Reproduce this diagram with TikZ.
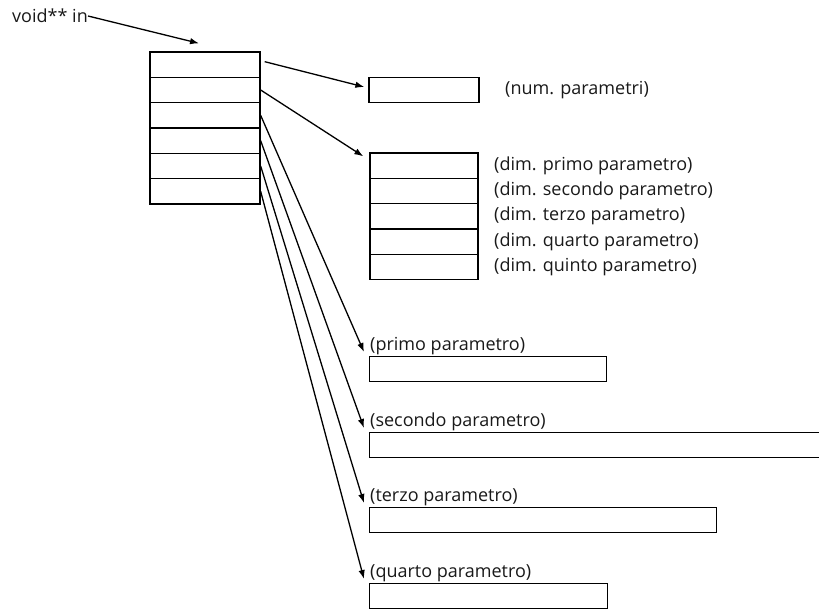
\documentclass[tikz,border=0pt]{standalone}
\usepackage{fontspec}
\setmainfont{Open Sans}
\usetikzlibrary{arrows.meta}
\tikzset{
  cella/.style={draw, line width=1.3pt, minimum width=110pt, minimum height=25.33pt, inner sep=0pt},
  campo/.style={draw, line width=1.3pt, minimum height=25pt, inner sep=0pt, anchor=north west},
  freccia/.style={-{Latex[length=9pt,width=6.5pt]}, line width=1.3pt},
  etichetta/.style={anchor=west, inner sep=0pt, text=black!90, font=\fontsize{18}{21}\selectfont}
}
\begin{document}
\begin{tikzpicture}[x=1pt, y=-1pt]
    \path [use as bounding box, clip] (0,0) rectangle (819,609);
    \pgfmathsetmacro{\h}{25.33};
    \node [etichetta] (void) at (12, 16) {void** in};
    \foreach \k in {1,...,6}
        \node [cella] (in\k) at (205, {52+\h*(\k-0.5)}) {};
    \node [cella] (num) at (424, 90) {};
    \node [etichetta] at (505, 90) {(num. parametri)};
    \foreach \k/\nome in {1/primo, 2/secondo, 3/terzo, 4/quarto, 5/quinto} {
        \node [cella, minimum width=108pt] (dim\k) at (424, {153+\h*(\k-0.5)}) {};
        \node [etichetta] at (494, {153+\h*(\k-0.5)}) {(dim. \nome\ parametro)};
    }
    \foreach \k/\nome/\y/\w in {1/primo/356/237, 2/secondo/432/456, 3/terzo/507/347, 4/quarto/583/238} {
        \node [campo, minimum width=\w pt] (par\k) at (369, \y) {};
        \node [etichetta, anchor=south west, inner sep=1pt] at (par\k.north west) {(\nome\ parametro)};
    }
    \draw [freccia] (void.east) -- ([xshift=-6pt, yshift=8pt]in1.north);
    \draw [freccia] ([xshift=4pt, yshift=3pt]in1.east) -- ([xshift=-4pt, yshift=3pt]num.west);
    \draw [freccia] (in2.east) -- ([xshift=-6pt, yshift=-4pt]dim1.north west);
    \foreach \k/\j in {3/1, 4/2, 5/3, 6/4}
        \draw [freccia] (in\k.east) -- ([xshift=-5pt, yshift=4pt]par\j.north west);
\end{tikzpicture}
\end{document}
